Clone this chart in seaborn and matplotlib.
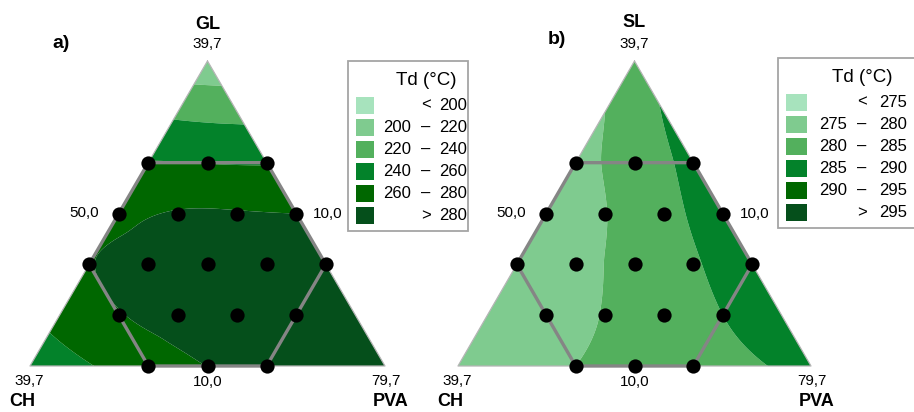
import numpy as np
import pandas as pd
import matplotlib
matplotlib.use('Agg')
import matplotlib.pyplot as plt
import matplotlib.tri as mtri
from matplotlib.patches import Rectangle
import seaborn as sns

# mixture grid in sixths of the pseudo-component range: (GL/SL, CH, PVA)
top_part = [6, 5, 5, 4, 4, 4, 3, 3, 3, 3, 2, 2, 2, 2, 2, 1, 1, 1, 1, 1, 1, 0, 0, 0, 0, 0, 0, 0]
ch_part = [0, 1, 0, 2, 1, 0, 3, 2, 1, 0, 4, 3, 2, 1, 0, 5, 4, 3, 2, 1, 0, 6, 5, 4, 3, 2, 1, 0]
pva_part = [6 - t - c for t, c in zip(top_part, ch_part)]

# Td (degC) at each grid point
td_a = [204, 236, 234, 261, 259.5, 258.5, 276, 281, 281, 280, 279.5, 284, 287, 288, 288,
        266, 279, 285, 289, 290, 291, 252, 259, 271, 280.3, 286, 290, 292]
td_b = [283, 280, 285.3, 279, 282, 286.5, 278.3, 279.9, 283.6, 287, 277.8, 279, 281.5, 284.6, 287,
        277.3, 278.5, 280.2, 282.6, 285, 287, 277, 278.5, 280, 281.5, 283, 284.6, 286]

levels_a = [100, 200, 220, 240, 260, 280, 400]
levels_b = [200, 275, 280, 285, 290, 295, 400]
labels_a = [('', '<', '200'), ('200', '–', '220'), ('220', '–', '240'),
            ('240', '–', '260'), ('260', '–', '280'), ('', '>', '280')]
labels_b = [('', '<', '275'), ('275', '–', '280'), ('280', '–', '285'),
            ('285', '–', '290'), ('290', '–', '295'), ('', '>', '295')]
palette = ['#a7e3bd', '#7fcb8f', '#53b05d', '#03822a', '#006700', '#054f1b']

sns.set_theme(style='white')
plt.rcParams['font.family'] = ['Liberation Sans', 'DejaVu Sans']
plt.rcParams['text.color'] = 'black'

fig = plt.figure(figsize=(9.14, 4.12), dpi=100)
ax = fig.add_axes([0, 0, 1, 1])
ax.set_xlim(0, 914)
ax.set_ylim(412, 0)
ax.axis('off')

H, YB = 305, 366


def to_xy(t, c, p, x0, w):
    t, c, p = np.asarray(t, float), np.asarray(c, float), np.asarray(p, float)
    return x0 + w * (p + t / 2) / 6, YB - H * t / 6


def panel(x0, w, td, levels, top_name, tag, tag_xy, name_y, leg, labels):
    xs, ys = to_xy(top_part, ch_part, pva_part, x0, w)
    tri = mtri.Triangulation(xs, ys)
    refiner = mtri.UniformTriRefiner(tri)
    tri_r, z_r = refiner.refine_field(np.array(td, float), subdiv=5)
    ax.tricontourf(tri_r, z_r, levels=levels, colors=palette, antialiased=True)

    # triangle outline
    vx, vy = to_xy([6, 0, 0, 6], [0, 6, 0, 0], [0, 0, 6, 0], x0, w)
    ax.plot(vx, vy, color='#b5b5b5', lw=0.9)

    # constrained region (hexagon)
    hx, hy = to_xy([4, 4, 2, 0, 0, 2, 4], [2, 0, 0, 2, 4, 4, 2], [0, 2, 4, 4, 2, 0, 0], x0, w)
    ax.plot(hx, hy, color='#858585', lw=2.4, solid_capstyle='round', zorder=3)

    df = pd.DataFrame({'x': xs, 'y': ys, 't': top_part, 'c': ch_part, 'p': pva_part})
    df = df[(df[['t', 'c', 'p']] <= 4).all(axis=1)]
    sns.scatterplot(data=df, x='x', y='y', color='black', s=105, edgecolor='black',
                    linewidth=0, ax=ax, legend=False, zorder=4)

    apex_x = x0 + w / 2
    ax.text(apex_x, name_y, top_name, ha='center', va='center', fontsize=13, fontweight='bold')
    ax.text(apex_x, 44, '39,7', ha='center', va='center', fontsize=11)
    ax.text(x0 + w / 4 - 20, 213, '50,0', ha='right', va='center', fontsize=11)
    ax.text(x0 + 3 * w / 4 + 17, 214, '10,0', ha='left', va='center', fontsize=11)
    ax.text(apex_x, 382, '10,0', ha='center', va='center', fontsize=11)
    ax.text(x0 - 1, 381, '39,7', ha='center', va='center', fontsize=11)
    ax.text(x0 + w + 1, 381, '79,7', ha='center', va='center', fontsize=11)
    ax.text(x0 - 8, 402, 'CH', ha='center', va='center', fontsize=13, fontweight='bold')
    ax.text(x0 + w + 6, 402, 'PVA', ha='center', va='center', fontsize=13, fontweight='bold')
    ax.text(tag_xy[0], tag_xy[1], tag, ha='center', va='center', fontsize=14, fontweight='bold')

    # legend box
    lx, ly, bw, lo_dx, sep_dx, hi_dx, sw_w = leg
    ax.add_patch(Rectangle((lx, ly), bw, 170, facecolor='white',
                           edgecolor='#a5a5a5', lw=1.3, zorder=5, clip_on=True))
    ax.text(lx + sep_dx, ly + 19, 'Td (°C)', ha='center', va='center',
            fontsize=13.5, zorder=6)
    for i, (lo, sep, hi) in enumerate(labels):
        yc = ly + 44 + i * 22.1
        ax.add_patch(Rectangle((lx + 8, yc - 8.5), sw_w, 17, facecolor=palette[i],
                               edgecolor='none', zorder=6))
        ax.text(lx + lo_dx, yc, lo, ha='right', va='center', fontsize=12, zorder=6)
        ax.text(lx + sep_dx, yc, sep, ha='center', va='center', fontsize=12, zorder=6)
        ax.text(lx + hi_dx, yc, hi, ha='right', va='center', fontsize=12, zorder=6)


panel(30, 355, td_a, levels_a, 'GL', 'a)', (61, 43), 24, (348, 61, 120, 63, 78, 119, 18), labels_a)
panel(458, 353, td_b, levels_b, 'SL', 'b)', (557, 39), 22, (778, 58, 145, 69, 84, 129, 21), labels_b)

fig.savefig('out.png', dpi=100)
